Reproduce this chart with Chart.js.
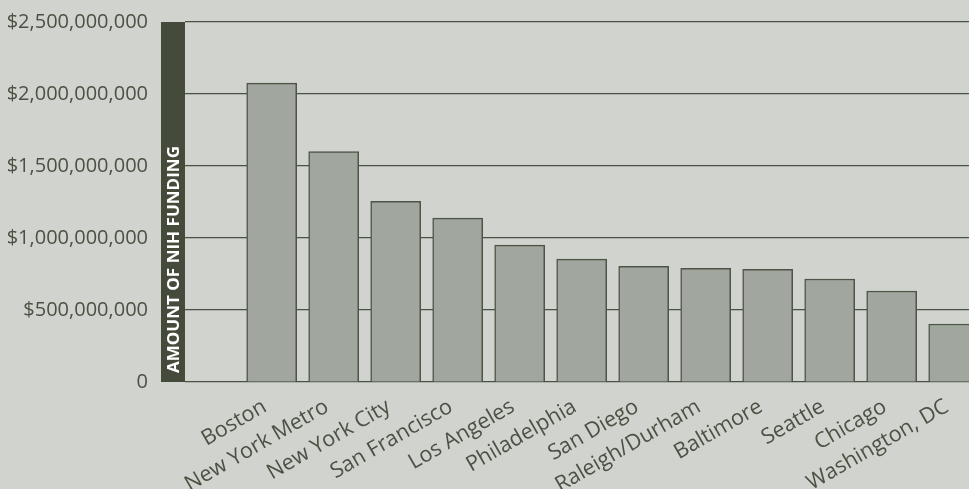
<!DOCTYPE html>
<html>
<head>
<meta charset="utf-8">
<script src="https://cdn.jsdelivr.net/npm/chart.js@4"></script>
<style>
  html, body { margin: 0; padding: 0; background: #d1d3cf; overflow: hidden; }
  #wrap { width: 969px; height: 489px; position: relative; }
</style>
</head>
<body>
<div id="wrap"><canvas id="nih"></canvas></div>
<script>
/* NIH funding by metro area */
const cities = ['Boston', 'New York Metro', 'New York City', 'San Francisco', 'Los Angeles', 'Philadelphia',
  'San Diego', 'Raleigh/Durham', 'Baltimore', 'Seattle', 'Chicago', 'Washington, DC'];
const funding = [2075000000, 1600000000, 1255000000, 1138000000, 950000000, 853000000,
  803000000, 790000000, 783000000, 715000000, 632000000, 403000000];
const yTicks = [0, 500000000, 1000000000, 1500000000, 2000000000, 2500000000];
const axisTitle = 'AMOUNT OF NIH FUNDING';

const ink = '#4a5243';
const band = '#454b3b';
const labelNudge = 0.11; // city names end a little left of the bar centre
const fmtMoney = (v) => v === 0 ? '0' : '$' + v.toLocaleString('en-US');

// dark strip with the vertical axis title, sits just left of the plot area
const titleBand = {
    id: 'titleBand',
    afterDraw(chart) {
        const { ctx, chartArea: a } = chart;
        const w = 24;
        ctx.save();
        ctx.fillStyle = band;
        ctx.fillRect(a.left - w, a.top, w, a.bottom - a.top);
        ctx.translate(a.left - w / 2, a.bottom - 9);
        ctx.rotate(-Math.PI / 2);
        ctx.font = 'bold 16px "Open Sans"';
        ctx.fillStyle = '#ffffff';
        ctx.textAlign = 'left';
        ctx.textBaseline = 'middle';
        const len = ctx.measureText(axisTitle).width;
        ctx.scale(227 / len, 1);
        ctx.fillText(axisTitle, 0, 1);
        ctx.restore();
    }
};

new Chart(document.getElementById('nih'), {
    type: 'bar',
    data: {
        datasets: [{
            data: funding.map((v, i) => ({ x: i, y: v })),
            backgroundColor: '#a1a69e',
            borderColor: '#4d5546',
            borderWidth: 1.5,
            barThickness: 50
        }]
    },
    options: {
        responsive: true, maintainAspectRatio: false, animation: false,
        layout: { padding: { top: 22, left: 0, right: 0, bottom: 0 } },
        plugins: { legend: { display: false }, tooltip: { enabled: false } },
        scales: {
            x: {
                type: 'linear', min: -1.398, max: 11.247, offset: false,
                grid: { display: false, drawTicks: false, offset: false },
                border: { display: false },
                afterBuildTicks: (s) => { s.ticks = cities.map((_, i) => ({ value: i - labelNudge })); },
                afterFit: (s) => { s.height = 107; s.paddingLeft = 0; s.paddingRight = 0; },
                ticks: {
                    autoSkip: false, minRotation: 30, maxRotation: 30, padding: 12,
                    color: ink, font: { family: '"Open Sans"', size: 21.5 },
                    callback: (v) => cities[Math.round(v)] || ''
                }
            },
            y: {
                min: 0, max: 2500000000,
                grid: { color: ink, lineWidth: 1.2, drawTicks: false },
                border: { display: false },
                afterBuildTicks: (s) => { s.ticks = yTicks.map(v => ({ value: v })); },
                afterFit: (s) => { s.width = 185; s.paddingTop = 0; s.paddingBottom = 0; },
                ticks: {
                    padding: 37, color: ink, font: { family: '"Open Sans"', size: 20 },
                    callback: (v) => fmtMoney(v)
                }
            }
        }
    },
    plugins: [titleBand]
});
</script>
</body>
</html>
